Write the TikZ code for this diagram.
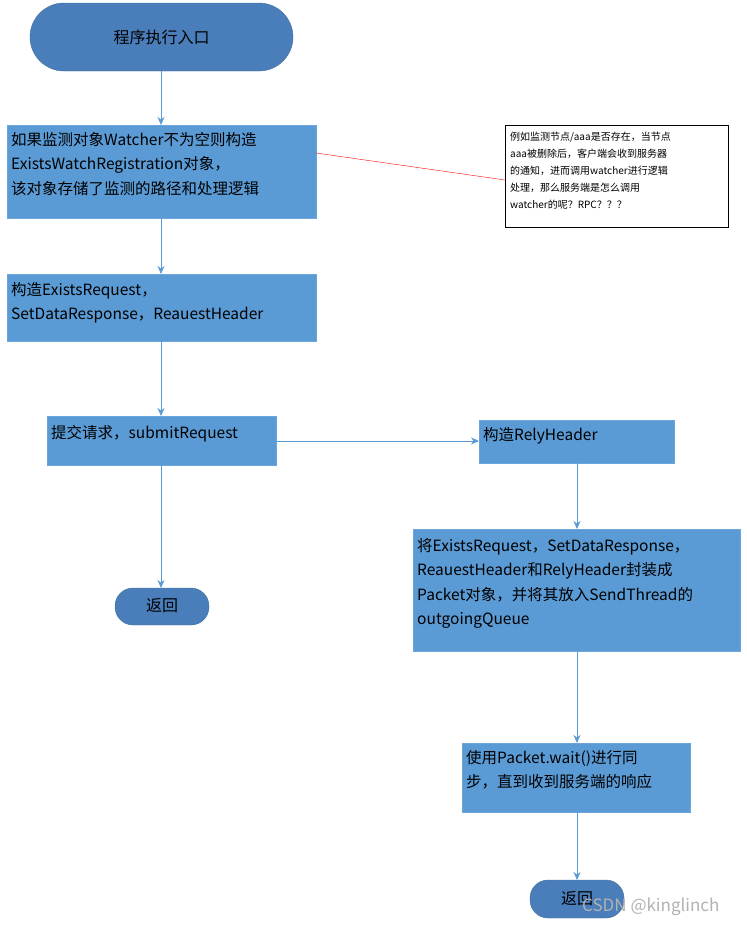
\documentclass[tikz,border=0pt]{standalone}
\usepackage{fontspec}
\setmainfont{Noto Sans CJK SC}
\usetikzlibrary{arrows.meta}
\definecolor{boxblue}{HTML}{5B9BD5}
\definecolor{termblue}{HTML}{4A7EBB}
\definecolor{bordblue}{HTML}{41719C}
\definecolor{arr}{HTML}{5B9BD5}
\tikzset{
  box/.style={draw=boxblue!90!white, fill=boxblue},
  term/.style={draw=bordblue, fill=termblue, rounded corners=18pt},
  txt/.style={anchor=north west, align=left, inner sep=0pt, font=\fontsize{15.5}{24.5}\selectfont, text=black},
  arrow/.style={draw=arr, line width=0.8pt, -{Stealth[length=8pt,width=7pt]}},
}
\begin{document}
\begin{tikzpicture}[x=1pt,y=-1pt]
\useasboundingbox[fill=white] (0,0) rectangle (747,927);
% start
\draw[term, rounded corners=34pt] (30,3) rectangle (293,71);
\node[font=\fontsize{16}{20}\selectfont] (start) at (161.5,37) {程序执行入口};
\coordinate (s) at (161,71);
% box1
\draw[box] (7,125) rectangle (316,218);
\node[txt] (b1) at (11,132) {如果监测对象Watcher不为空则构造\\ExistsWatchRegistration对象，\\该对象存储了监测的路径和处理逻辑};
\coordinate (b1t) at (161,125); \coordinate (b1b) at (161,218); \coordinate (b1r) at (316,153);
% note
\draw[black, fill=white] (505,125) rectangle (728,227);
\node[anchor=north west, align=left, inner sep=0pt, font=\fontsize{10}{17}\selectfont] (note) at (510,132) {例如监测节点/aaa是否存在，当节点\\aaa被删除后，客户端会收到服务器\\的通知，进而调用watcher进行逻辑\\处理，那么服务端是怎么调用\\watcher的呢？RPC？？？};
\coordinate (nl) at (505,180);
\draw[red] (b1r) -- (nl);
% box2
\draw[box] (7,274) rectangle (316,341);
\node[txt] (b2) at (11,282) {构造ExistsRequest，\\SetDataResponse，ReauestHeader};
\coordinate (b2t) at (161,274); \coordinate (b2b) at (161,341);
% box3
\draw[box] (47,416) rectangle (276,465);
\node[txt] (b3) at (51,425) {提交请求，submitRequest};
\coordinate (b3t) at (161,416); \coordinate (b3b) at (161,465); \coordinate (b3r) at (276,441);
% box4
\draw[box] (479,420) rectangle (674,463);
\node[txt] (b4) at (483,427) {构造RelyHeader};
\coordinate (b4l) at (479,441); \coordinate (b4b) at (577,463);
% box5
\draw[box] (413,529) rectangle (740,651);
\node[txt] (b5) at (417,538) {将ExistsRequest，SetDataResponse，\\ReauestHeader和RelyHeader封装成\\Packet对象，并将其放入SendThread的\\outgoingQueue};
\coordinate (b5t) at (577,529); \coordinate (b5b) at (577,651);
% box6
\draw[box] (462,743) rectangle (690,812);
\node[txt] (b6) at (466,750) {使用Packet.wait()进行同\\步，直到收到服务端的响应};
\coordinate (b6t) at (577,743); \coordinate (b6b) at (577,812);
% ends
\draw[term] (115,588) rectangle (209,625);
\node[font=\fontsize{16}{20}\selectfont] (e1) at (162,606) {返回};
\coordinate (e1t) at (161,588);
\draw[term] (530,880) rectangle (624,918);
\node[font=\fontsize{16}{20}\selectfont] (e2) at (577,899) {返回};
\coordinate (e2t) at (577,880);
% arrows
\draw[arrow] (s) -- (b1t);
\draw[arrow] (b1b) -- (b2t);
\draw[arrow] (b2b) -- (b3t);
\draw[arrow] (b3r) -- (b4l);
\draw[arrow] (b3b) -- (e1t);
\draw[arrow] (b4b) -- (b5t);
\draw[arrow] (b5b) -- (b6t);
\draw[arrow] (b6b) -- (e2t);
% watermark
\node[anchor=west, text=gray!60, inner sep=0pt, font=\fontsize{17}{20}\selectfont] (wm) at (582,907) {CSDN @kinglinch};
\end{tikzpicture}
\end{document}
